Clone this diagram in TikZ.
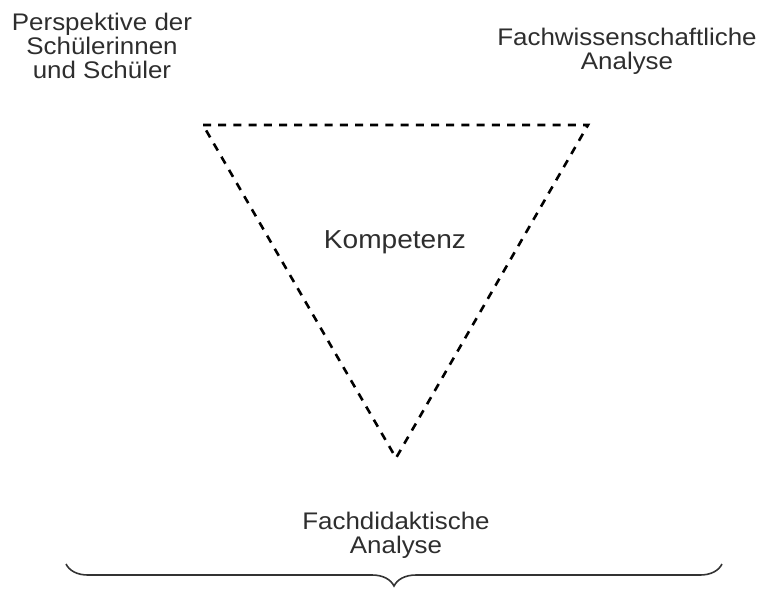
\documentclass[tikz,border=0pt]{standalone}
\usepackage{fontspec}
\setmainfont[FakeStretch=1.08]{Liberation Sans}
\usetikzlibrary{decorations.pathreplacing}
\tikzset{
  etikett/.style={align=center, inner sep=0pt, text=black!82, font=\fontsize{12}{12.2}\selectfont},
  strichlinie/.style={line width=1.3pt, dash pattern=on 4pt off 3.6pt},
}
\begin{document}
\begin{tikzpicture}[x=0.5pt, y=-0.5pt]
        \useasboundingbox (0, 0) rectangle (765, 590);
        % Ecken des Dreiecks
        \coordinate (ecke1) at (203, 125);
        \coordinate (ecke2) at (588, 125);
        \coordinate (ecke3) at (396, 458);
        \draw[strichlinie] (ecke1) -- (ecke2) -- (ecke3) -- cycle;
        \node[etikett] (perspektive) at (102, 46) {Perspektive der\\Schülerinnen\\und Schüler};
        \node[etikett] (fachwiss) at (627, 51) {Fachwissenschaftliche\\Analyse};
        \node[etikett, font=\fontsize{13}{12}\selectfont] (kompetenz) at (395, 242) {Kompetenz};
        \node[etikett] (fachdid) at (396, 535) {Fachdidaktische\\Analyse};
        % Klammer unten
        \coordinate (klammerL) at (66, 564);
        \coordinate (klammerR) at (722, 564);
        \draw[black!80, line width=0.8pt, decorate, decoration={brace, mirror, amplitude=11pt}] (klammerL) -- (klammerR);
    \end{tikzpicture}
\end{document}
